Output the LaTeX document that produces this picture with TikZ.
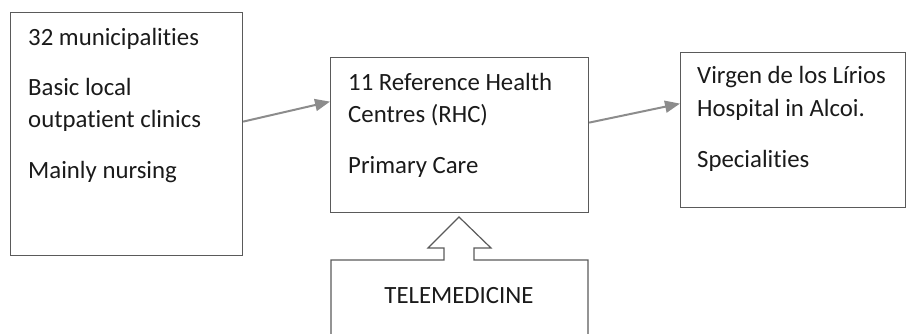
\documentclass[tikz,border=0pt]{standalone}
\usepackage{fontspec}
\setmainfont{Carlito}[Ligatures={NoCommon}]
\usetikzlibrary{arrows.meta}
\definecolor{boxline}{HTML}{5A5A5A}
\definecolor{arrowgray}{HTML}{8C8C8C}
\definecolor{txt}{HTML}{1A1A1A}
\begin{document}
\begin{tikzpicture}[x=1pt,y=-1pt,
  box/.style={draw=boxline,line width=1.2pt,inner sep=0pt,anchor=north west},
  lbl/.style={inner sep=0pt,anchor=base west,text=txt,font=\fontsize{24.8}{28}\selectfont},
  conn/.style={draw=arrowgray,line width=2pt,-{Triangle[length=15pt,width=12pt]}}]
\useasboundingbox (0,0) rectangle (906,333);
% boxes
\node[box,minimum width=232pt,minimum height=243pt] (b1) at (10,12) {};
\node[box,minimum width=258pt,minimum height=155pt] (b2) at (330,57) {};
\node[box,minimum width=225pt,minimum height=155pt] (b3) at (680,52) {};
% texts
\node[lbl] (t11) at (28,45) {32 municipalities};
\node[lbl] (t12) at (28,95) {Basic local};
\node[lbl] (t13) at (28,127) {outpatient clinics};
\node[lbl] (t14) at (28,178) {Mainly nursing};
\node[lbl] (t21) at (348,90) {11 Reference Health};
\node[lbl] (t22) at (348,122) {Centres (RHC)};
\node[lbl] (t23) at (348,173) {Primary Care};
\node[lbl] (t31) at (697,83) {Virgen de los Lírios};
\node[lbl] (t32) at (697,116) {Hospital in Alcoi.};
\node[lbl] (t33) at (697,167) {Specialities};
% telemedicine shape
\draw[boxline,line width=1.2pt,line join=miter]
  (331,336) -- (331,260) -- (444,260) -- (444,248) -- (428,248) -- (459,217)
  -- (491,248) -- (474,248) -- (474,260) -- (588,260) -- (588,336);
\node[inner sep=0pt,anchor=base,text=txt,font=\fontsize{24.8}{28}\selectfont] (tele) at (459,303) {TELEMEDICINE};
% connectors
\draw[conn] ([yshift=12.5pt]b1.east) -- ([yshift=33.5pt]b2.west);
\draw[conn] ([yshift=12.5pt]b2.east) -- ([yshift=26.5pt]b3.west);
\end{tikzpicture}
\end{document}
